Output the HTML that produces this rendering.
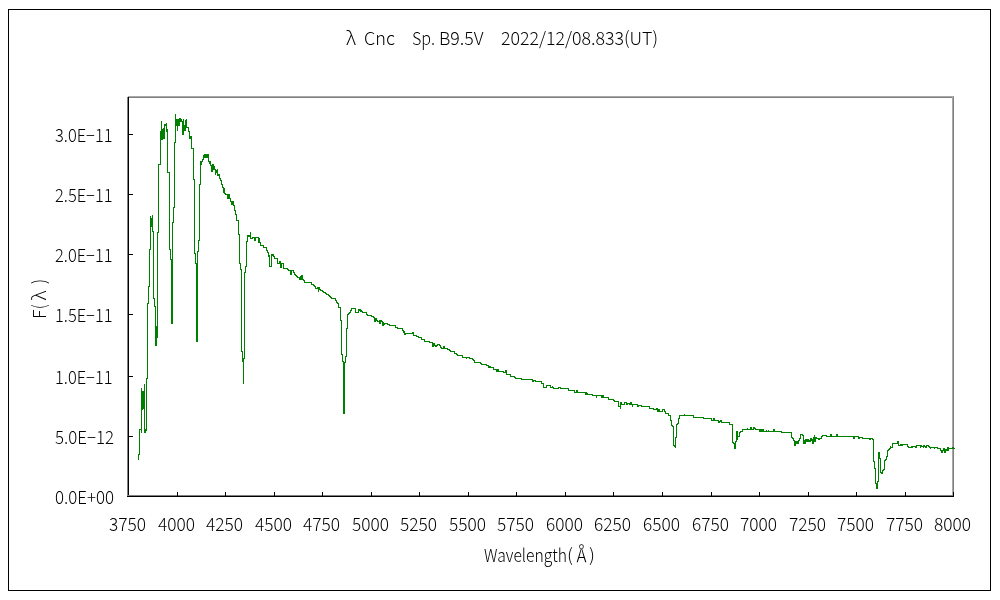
<!DOCTYPE html>
<html><head><meta charset="utf-8"><title>λ Cnc spectrum</title><style>
html,body{margin:0;padding:0;background:#fff;width:1000px;height:600px;overflow:hidden}
svg{display:block;will-change:transform}
text{font-family:"Noto Sans CJK JP","Liberation Sans",sans-serif;font-weight:300;font-size:18px;fill:#000}
</style></head><body>
<svg width="1000" height="600" viewBox="0 0 1000 600">
<rect x="8.5" y="9.5" width="982" height="581" fill="none" stroke="#000" stroke-width="1"/>
<g shape-rendering="crispEdges">
<rect x="128" y="96" width="826" height="1" fill="#a8a8a8"/>
<rect x="128" y="97" width="826" height="1" fill="#808080"/>
<rect x="952" y="97" width="1" height="399" fill="#a8a8a8"/>
<rect x="953" y="97" width="1" height="399" fill="#808080"/>
<rect x="127" y="97" width="1" height="399" fill="#808080"/>
<rect x="128" y="97" width="1" height="400" fill="#000"/>
<rect x="128" y="495" width="826" height="1" fill="#808080"/>
<rect x="127" y="496" width="827" height="1" fill="#000"/>
<rect x="129" y="436" width="4" height="1" fill="#000"/>
<rect x="129" y="376" width="4" height="1" fill="#000"/>
<rect x="129" y="314" width="4" height="1" fill="#000"/>
<rect x="129" y="254" width="4" height="1" fill="#000"/>
<rect x="129" y="194" width="4" height="1" fill="#000"/>
<rect x="129" y="134" width="4" height="1" fill="#000"/>
<rect x="177" y="492" width="1" height="4" fill="#000"/>
<rect x="225" y="492" width="1" height="4" fill="#000"/>
<rect x="274" y="492" width="1" height="4" fill="#000"/>
<rect x="322" y="492" width="1" height="4" fill="#000"/>
<rect x="371" y="492" width="1" height="4" fill="#000"/>
<rect x="419" y="492" width="1" height="4" fill="#000"/>
<rect x="468" y="492" width="1" height="4" fill="#000"/>
<rect x="516" y="492" width="1" height="4" fill="#000"/>
<rect x="565" y="492" width="1" height="4" fill="#000"/>
<rect x="613" y="492" width="1" height="4" fill="#000"/>
<rect x="662" y="492" width="1" height="4" fill="#000"/>
<rect x="711" y="492" width="1" height="4" fill="#000"/>
<rect x="759" y="492" width="1" height="4" fill="#000"/>
<rect x="808" y="492" width="1" height="4" fill="#000"/>
<rect x="856" y="492" width="1" height="4" fill="#000"/>
<rect x="905" y="492" width="1" height="4" fill="#000"/>
<rect x="953" y="492" width="1" height="4" fill="#000"/>
</g>
<polyline fill="none" stroke="#008000" stroke-width="1" shape-rendering="crispEdges" points="138.5,459.5 138.5,454.5 139.5,454.5 139.5,429.5 140.5,429.5 140.5,428.5 140.5,429.5 141.5,429.5 141.5,432.5 141.5,387.5 141.5,409.5 142.5,409.5 142.5,390.5 142.5,405.5 143.5,405.5 143.5,394.5 143.5,402.5 143.5,390.5 143.5,408.5 144.5,408.5 144.5,383.5 144.5,432.5 145.5,432.5 145.5,428.5 145.5,430.5 146.5,430.5 146.5,378.5 147.5,378.5 147.5,303.5 148.5,303.5 148.5,286.5 149.5,286.5 149.5,249.5 150.5,249.5 150.5,215.5 150.5,226.5 151.5,226.5 151.5,217.5 151.5,225.5 152.5,225.5 152.5,214.5 152.5,231.5 153.5,231.5 153.5,298.5 154.5,298.5 154.5,306.5 155.5,306.5 155.5,345.5 156.5,345.5 156.5,325.5 156.5,337.5 157.5,337.5 157.5,232.5 158.5,232.5 158.5,164.5 160.5,164.5 160.5,131.5 161.5,131.5 161.5,120.5 161.5,139.5 162.5,139.5 162.5,129.5 163.5,129.5 163.5,127.5 163.5,138.5 164.5,138.5 164.5,124.5 165.5,124.5 165.5,123.5 165.5,125.5 166.5,125.5 166.5,122.5 166.5,131.5 167.5,131.5 167.5,128.5 167.5,172.5 169.5,172.5 169.5,249.5 170.5,249.5 170.5,259.5 171.5,259.5 171.5,323.5 172.5,323.5 172.5,222.5 173.5,222.5 173.5,207.5 174.5,207.5 174.5,142.5 175.5,142.5 175.5,113.5 175.5,125.5 176.5,125.5 176.5,118.5 176.5,125.5 177.5,125.5 177.5,118.5 177.5,130.5 177.5,120.5 178.5,120.5 178.5,125.5 178.5,118.5 178.5,122.5 179.5,122.5 179.5,125.5 179.5,118.5 180.5,118.5 180.5,121.5 181.5,121.5 181.5,118.5 181.5,121.5 182.5,121.5 182.5,120.5 182.5,134.5 183.5,134.5 183.5,118.5 183.5,125.5 184.5,125.5 184.5,130.5 185.5,130.5 185.5,120.5 186.5,120.5 186.5,118.5 186.5,127.5 187.5,127.5 187.5,126.5 187.5,127.5 188.5,127.5 188.5,131.5 189.5,131.5 189.5,138.5 190.5,138.5 190.5,135.5 190.5,136.5 191.5,136.5 191.5,148.5 193.5,148.5 193.5,179.5 194.5,179.5 194.5,253.5 195.5,253.5 195.5,263.5 196.5,263.5 196.5,341.5 197.5,341.5 197.5,251.5 198.5,251.5 198.5,240.5 199.5,240.5 199.5,184.5 200.5,184.5 200.5,161.5 201.5,161.5 201.5,164.5 201.5,161.5 202.5,161.5 202.5,159.5 203.5,159.5 203.5,155.5 204.5,155.5 204.5,157.5 204.5,154.5 205.5,154.5 205.5,157.5 206.5,157.5 206.5,154.5 207.5,154.5 207.5,157.5 207.5,154.5 208.5,154.5 208.5,161.5 209.5,161.5 209.5,163.5 209.5,161.5 210.5,161.5 210.5,165.5 211.5,165.5 211.5,171.5 212.5,171.5 212.5,164.5 213.5,164.5 213.5,169.5 213.5,166.5 214.5,166.5 214.5,169.5 215.5,169.5 215.5,174.5 215.5,170.5 216.5,170.5 216.5,172.5 217.5,172.5 217.5,168.5 217.5,175.5 218.5,175.5 218.5,174.5 219.5,174.5 219.5,178.5 220.5,178.5 220.5,180.5 221.5,180.5 221.5,184.5 222.5,184.5 222.5,187.5 223.5,187.5 223.5,192.5 223.5,188.5 224.5,188.5 224.5,193.5 225.5,193.5 225.5,194.5 227.5,194.5 227.5,198.5 228.5,198.5 228.5,194.5 229.5,194.5 229.5,198.5 230.5,198.5 230.5,201.5 231.5,201.5 231.5,204.5 232.5,204.5 232.5,201.5 233.5,201.5 233.5,205.5 234.5,205.5 234.5,210.5 235.5,210.5 235.5,214.5 236.5,214.5 236.5,220.5 238.5,220.5 238.5,234.5 239.5,234.5 239.5,263.5 240.5,263.5 240.5,269.5 241.5,269.5 241.5,351.5 242.5,351.5 242.5,361.5 243.5,361.5 243.5,383.5 243.5,358.5 244.5,358.5 244.5,272.5 245.5,272.5 245.5,267.5 245.5,272.5 245.5,266.5 246.5,266.5 246.5,241.5 247.5,241.5 247.5,235.5 248.5,235.5 248.5,236.5 249.5,236.5 249.5,235.5 250.5,235.5 250.5,231.5 250.5,238.5 252.5,238.5 252.5,237.5 254.5,237.5 254.5,240.5 255.5,240.5 255.5,237.5 258.5,237.5 258.5,242.5 258.5,238.5 259.5,238.5 259.5,242.5 260.5,242.5 260.5,245.5 263.5,245.5 263.5,247.5 266.5,247.5 266.5,250.5 267.5,250.5 267.5,252.5 268.5,252.5 268.5,256.5 269.5,256.5 269.5,254.5 269.5,266.5 271.5,266.5 271.5,254.5 272.5,254.5 272.5,255.5 273.5,255.5 273.5,253.5 273.5,256.5 274.5,256.5 274.5,258.5 277.5,258.5 277.5,263.5 279.5,263.5 279.5,261.5 280.5,261.5 280.5,267.5 281.5,267.5 281.5,263.5 283.5,263.5 283.5,268.5 287.5,268.5 287.5,269.5 288.5,269.5 288.5,270.5 290.5,270.5 290.5,274.5 291.5,274.5 291.5,270.5 293.5,270.5 293.5,272.5 294.5,272.5 294.5,274.5 295.5,274.5 295.5,275.5 296.5,275.5 296.5,276.5 297.5,276.5 297.5,277.5 299.5,277.5 299.5,279.5 300.5,279.5 300.5,276.5 301.5,276.5 301.5,279.5 301.5,275.5 302.5,275.5 302.5,279.5 303.5,279.5 303.5,280.5 304.5,280.5 304.5,282.5 311.5,282.5 311.5,284.5 313.5,284.5 313.5,285.5 314.5,285.5 314.5,286.5 315.5,286.5 315.5,285.5 315.5,288.5 317.5,288.5 317.5,287.5 318.5,287.5 318.5,291.5 318.5,287.5 319.5,287.5 319.5,289.5 320.5,289.5 320.5,290.5 322.5,290.5 322.5,291.5 323.5,291.5 323.5,292.5 325.5,292.5 325.5,293.5 326.5,293.5 326.5,294.5 328.5,294.5 328.5,295.5 329.5,295.5 329.5,296.5 330.5,296.5 330.5,297.5 331.5,297.5 331.5,298.5 335.5,298.5 335.5,300.5 336.5,300.5 336.5,302.5 337.5,302.5 337.5,303.5 338.5,303.5 338.5,307.5 340.5,307.5 340.5,320.5 341.5,320.5 341.5,354.5 342.5,354.5 342.5,361.5 343.5,361.5 343.5,413.5 344.5,413.5 344.5,362.5 345.5,362.5 345.5,356.5 346.5,356.5 346.5,328.5 347.5,328.5 347.5,314.5 348.5,314.5 348.5,313.5 349.5,313.5 349.5,312.5 350.5,312.5 350.5,310.5 351.5,310.5 351.5,308.5 355.5,308.5 355.5,312.5 358.5,312.5 358.5,308.5 358.5,310.5 359.5,310.5 359.5,309.5 360.5,309.5 360.5,311.5 361.5,311.5 361.5,309.5 361.5,311.5 362.5,311.5 362.5,312.5 366.5,312.5 366.5,314.5 367.5,314.5 367.5,315.5 371.5,315.5 371.5,316.5 373.5,316.5 373.5,317.5 374.5,317.5 374.5,321.5 375.5,321.5 375.5,318.5 376.5,318.5 376.5,320.5 377.5,320.5 377.5,321.5 379.5,321.5 379.5,319.5 379.5,323.5 380.5,323.5 380.5,320.5 381.5,320.5 381.5,321.5 382.5,321.5 382.5,325.5 383.5,325.5 383.5,321.5 383.5,324.5 384.5,324.5 384.5,323.5 387.5,323.5 387.5,324.5 389.5,324.5 389.5,325.5 395.5,325.5 395.5,327.5 397.5,327.5 397.5,328.5 402.5,328.5 402.5,330.5 403.5,330.5 403.5,332.5 404.5,332.5 404.5,330.5 404.5,334.5 405.5,334.5 405.5,333.5 412.5,333.5 412.5,332.5 413.5,332.5 413.5,335.5 416.5,335.5 416.5,336.5 418.5,336.5 418.5,337.5 421.5,337.5 421.5,339.5 424.5,339.5 424.5,341.5 429.5,341.5 429.5,342.5 432.5,342.5 432.5,346.5 433.5,346.5 433.5,343.5 434.5,343.5 434.5,345.5 435.5,345.5 435.5,346.5 436.5,346.5 436.5,345.5 437.5,345.5 437.5,344.5 439.5,344.5 439.5,345.5 440.5,345.5 440.5,347.5 441.5,347.5 441.5,348.5 443.5,348.5 443.5,346.5 444.5,346.5 444.5,348.5 447.5,348.5 447.5,349.5 449.5,349.5 449.5,350.5 450.5,350.5 450.5,351.5 454.5,351.5 454.5,353.5 456.5,353.5 456.5,354.5 457.5,354.5 457.5,355.5 462.5,355.5 462.5,357.5 466.5,357.5 466.5,358.5 466.5,357.5 469.5,357.5 469.5,358.5 472.5,358.5 472.5,359.5 473.5,359.5 473.5,360.5 474.5,360.5 474.5,362.5 480.5,362.5 480.5,363.5 481.5,363.5 481.5,364.5 486.5,364.5 486.5,365.5 488.5,365.5 488.5,367.5 489.5,367.5 489.5,366.5 490.5,366.5 490.5,367.5 493.5,367.5 493.5,369.5 496.5,369.5 496.5,371.5 497.5,371.5 497.5,369.5 498.5,369.5 498.5,371.5 503.5,371.5 503.5,372.5 505.5,372.5 505.5,370.5 506.5,370.5 506.5,374.5 510.5,374.5 510.5,376.5 514.5,376.5 514.5,377.5 515.5,377.5 515.5,378.5 521.5,378.5 521.5,379.5 532.5,379.5 532.5,381.5 533.5,381.5 533.5,380.5 535.5,380.5 535.5,381.5 541.5,381.5 541.5,383.5 543.5,383.5 543.5,387.5 546.5,387.5 546.5,385.5 550.5,385.5 550.5,387.5 552.5,387.5 552.5,385.5 552.5,387.5 553.5,387.5 553.5,388.5 558.5,388.5 558.5,387.5 560.5,387.5 560.5,388.5 568.5,388.5 568.5,390.5 574.5,390.5 574.5,392.5 576.5,392.5 576.5,390.5 577.5,390.5 577.5,392.5 585.5,392.5 585.5,394.5 585.5,392.5 586.5,392.5 586.5,394.5 587.5,394.5 587.5,392.5 587.5,394.5 592.5,394.5 592.5,395.5 596.5,395.5 596.5,397.5 596.5,395.5 601.5,395.5 601.5,397.5 602.5,397.5 602.5,395.5 603.5,395.5 603.5,397.5 608.5,397.5 608.5,399.5 613.5,399.5 613.5,400.5 614.5,400.5 614.5,401.5 618.5,401.5 618.5,406.5 620.5,406.5 620.5,408.5 620.5,402.5 621.5,402.5 621.5,404.5 624.5,404.5 624.5,402.5 626.5,402.5 626.5,404.5 627.5,404.5 627.5,403.5 629.5,403.5 629.5,404.5 630.5,404.5 630.5,402.5 631.5,402.5 631.5,404.5 632.5,404.5 632.5,406.5 632.5,404.5 637.5,404.5 637.5,406.5 638.5,406.5 638.5,405.5 641.5,405.5 641.5,406.5 649.5,406.5 649.5,408.5 653.5,408.5 653.5,409.5 656.5,409.5 656.5,408.5 657.5,408.5 657.5,411.5 658.5,411.5 658.5,409.5 659.5,409.5 659.5,411.5 662.5,411.5 662.5,409.5 664.5,409.5 664.5,411.5 665.5,411.5 665.5,413.5 668.5,413.5 668.5,415.5 670.5,415.5 670.5,420.5 671.5,420.5 671.5,425.5 672.5,425.5 672.5,426.5 673.5,426.5 673.5,445.5 674.5,445.5 674.5,446.5 675.5,446.5 675.5,447.5 675.5,437.5 676.5,437.5 676.5,424.5 677.5,424.5 677.5,423.5 678.5,423.5 678.5,418.5 679.5,418.5 679.5,415.5 684.5,415.5 684.5,413.5 684.5,415.5 693.5,415.5 693.5,417.5 703.5,417.5 703.5,418.5 711.5,418.5 711.5,420.5 713.5,420.5 713.5,418.5 714.5,418.5 714.5,420.5 718.5,420.5 718.5,422.5 719.5,422.5 719.5,421.5 720.5,421.5 720.5,420.5 721.5,420.5 721.5,422.5 729.5,422.5 729.5,424.5 732.5,424.5 732.5,442.5 733.5,442.5 733.5,443.5 734.5,443.5 734.5,448.5 735.5,448.5 735.5,441.5 736.5,441.5 736.5,431.5 737.5,431.5 737.5,439.5 737.5,436.5 739.5,436.5 739.5,432.5 740.5,432.5 740.5,431.5 742.5,431.5 742.5,429.5 747.5,429.5 747.5,427.5 747.5,429.5 750.5,429.5 750.5,427.5 751.5,427.5 751.5,429.5 753.5,429.5 753.5,427.5 754.5,427.5 754.5,428.5 755.5,428.5 755.5,429.5 759.5,429.5 759.5,431.5 760.5,431.5 760.5,429.5 761.5,429.5 761.5,431.5 762.5,431.5 762.5,429.5 763.5,429.5 763.5,431.5 766.5,431.5 766.5,429.5 766.5,431.5 768.5,431.5 768.5,429.5 768.5,431.5 773.5,431.5 773.5,429.5 774.5,429.5 774.5,431.5 781.5,431.5 781.5,432.5 791.5,432.5 791.5,437.5 792.5,437.5 792.5,438.5 793.5,438.5 793.5,440.5 794.5,440.5 794.5,445.5 795.5,445.5 795.5,441.5 796.5,441.5 796.5,443.5 797.5,443.5 797.5,441.5 798.5,441.5 798.5,443.5 798.5,440.5 799.5,440.5 799.5,438.5 800.5,438.5 800.5,434.5 802.5,434.5 802.5,435.5 803.5,435.5 803.5,443.5 804.5,443.5 804.5,439.5 804.5,443.5 805.5,443.5 805.5,439.5 806.5,439.5 806.5,441.5 807.5,441.5 807.5,439.5 808.5,439.5 808.5,441.5 809.5,441.5 809.5,440.5 810.5,440.5 810.5,441.5 810.5,438.5 811.5,438.5 811.5,440.5 812.5,440.5 812.5,438.5 812.5,443.5 813.5,443.5 813.5,437.5 814.5,437.5 814.5,434.5 814.5,441.5 815.5,441.5 815.5,437.5 816.5,437.5 816.5,438.5 818.5,438.5 818.5,439.5 819.5,439.5 819.5,438.5 821.5,438.5 821.5,436.5 822.5,436.5 822.5,435.5 826.5,435.5 826.5,436.5 830.5,436.5 830.5,434.5 831.5,434.5 831.5,436.5 836.5,436.5 836.5,434.5 837.5,434.5 837.5,436.5 853.5,436.5 853.5,438.5 854.5,438.5 854.5,436.5 858.5,436.5 858.5,438.5 859.5,438.5 859.5,437.5 862.5,437.5 862.5,438.5 869.5,438.5 869.5,439.5 870.5,439.5 870.5,438.5 872.5,438.5 872.5,439.5 873.5,439.5 873.5,461.5 874.5,461.5 874.5,468.5 875.5,468.5 875.5,483.5 876.5,483.5 876.5,488.5 877.5,488.5 877.5,481.5 878.5,481.5 878.5,452.5 879.5,452.5 879.5,458.5 880.5,458.5 880.5,472.5 881.5,472.5 881.5,473.5 882.5,473.5 882.5,470.5 883.5,470.5 883.5,469.5 884.5,469.5 884.5,460.5 885.5,460.5 885.5,459.5 886.5,459.5 886.5,456.5 887.5,456.5 887.5,450.5 888.5,450.5 888.5,449.5 889.5,449.5 889.5,448.5 890.5,448.5 890.5,445.5 890.5,447.5 892.5,447.5 892.5,443.5 897.5,443.5 897.5,441.5 898.5,441.5 898.5,445.5 900.5,445.5 900.5,443.5 900.5,445.5 901.5,445.5 901.5,443.5 901.5,445.5 902.5,445.5 902.5,444.5 907.5,444.5 907.5,446.5 908.5,446.5 908.5,447.5 911.5,447.5 911.5,445.5 911.5,447.5 912.5,447.5 912.5,446.5 915.5,446.5 915.5,447.5 916.5,447.5 916.5,445.5 920.5,445.5 920.5,447.5 920.5,445.5 921.5,445.5 921.5,446.5 923.5,446.5 923.5,447.5 923.5,445.5 924.5,445.5 924.5,446.5 925.5,446.5 925.5,447.5 926.5,447.5 926.5,445.5 928.5,445.5 928.5,446.5 929.5,446.5 929.5,447.5 930.5,447.5 930.5,448.5 930.5,447.5 934.5,447.5 934.5,448.5 934.5,447.5 937.5,447.5 937.5,448.5 940.5,448.5 940.5,450.5 941.5,450.5 941.5,452.5 942.5,452.5 942.5,450.5 943.5,450.5 943.5,448.5 944.5,448.5 944.5,452.5 945.5,452.5 945.5,449.5 946.5,449.5 946.5,450.5 947.5,450.5 947.5,447.5 948.5,447.5 948.5,450.5 948.5,448.5 952.5,448.5 952.5,447.5 953.5,447.5 953.5,448.5 954.5,448.5 954.5,447.5"/>
<text id="t1" x="346" y="45" textLength="10" lengthAdjust="spacingAndGlyphs">λ</text>
<text id="t2" x="364" y="45" textLength="31" lengthAdjust="spacingAndGlyphs">Cnc</text>
<text id="t3" x="412" y="45" textLength="23" lengthAdjust="spacingAndGlyphs">Sp.</text>
<text id="t4" x="439" y="45" textLength="44.5" lengthAdjust="spacingAndGlyphs">B9.5V</text>
<text id="t5" x="501" y="45" textLength="157" lengthAdjust="spacingAndGlyphs">2022/12/08.833(UT)</text>
<text id="y0" x="55" y="504" textLength="59" lengthAdjust="spacingAndGlyphs">0.0E+00</text>
<text id="y1" x="55" y="444" textLength="59" lengthAdjust="spacingAndGlyphs">5.0E−12</text>
<text id="y2" x="55" y="384" textLength="57.5" lengthAdjust="spacingAndGlyphs">1.0E−11</text>
<text id="y3" x="55" y="322" textLength="57.5" lengthAdjust="spacingAndGlyphs">1.5E−11</text>
<text id="y4" x="55" y="262" textLength="57.5" lengthAdjust="spacingAndGlyphs">2.0E−11</text>
<text id="y5" x="55" y="202" textLength="57.5" lengthAdjust="spacingAndGlyphs">2.5E−11</text>
<text id="y6" x="55" y="142" textLength="57.5" lengthAdjust="spacingAndGlyphs">3.0E−11</text>
<text id="x0" x="109" y="531" textLength="37" lengthAdjust="spacingAndGlyphs">3750</text>
<text id="x1" x="158" y="531" textLength="37" lengthAdjust="spacingAndGlyphs">4000</text>
<text id="x2" x="206" y="531" textLength="37" lengthAdjust="spacingAndGlyphs">4250</text>
<text id="x3" x="255" y="531" textLength="37" lengthAdjust="spacingAndGlyphs">4500</text>
<text id="x4" x="303" y="531" textLength="37" lengthAdjust="spacingAndGlyphs">4750</text>
<text id="x5" x="352" y="531" textLength="37" lengthAdjust="spacingAndGlyphs">5000</text>
<text id="x6" x="400" y="531" textLength="37" lengthAdjust="spacingAndGlyphs">5250</text>
<text id="x7" x="449" y="531" textLength="37" lengthAdjust="spacingAndGlyphs">5500</text>
<text id="x8" x="497" y="531" textLength="37" lengthAdjust="spacingAndGlyphs">5750</text>
<text id="x9" x="546" y="531" textLength="37" lengthAdjust="spacingAndGlyphs">6000</text>
<text id="x10" x="594" y="531" textLength="37" lengthAdjust="spacingAndGlyphs">6250</text>
<text id="x11" x="643" y="531" textLength="37" lengthAdjust="spacingAndGlyphs">6500</text>
<text id="x12" x="692" y="531" textLength="37" lengthAdjust="spacingAndGlyphs">6750</text>
<text id="x13" x="740" y="531" textLength="37" lengthAdjust="spacingAndGlyphs">7000</text>
<text id="x14" x="789" y="531" textLength="37" lengthAdjust="spacingAndGlyphs">7250</text>
<text id="x15" x="837" y="531" textLength="37" lengthAdjust="spacingAndGlyphs">7500</text>
<text id="x16" x="886" y="531" textLength="37" lengthAdjust="spacingAndGlyphs">7750</text>
<text id="x17" x="934" y="531" textLength="37" lengthAdjust="spacingAndGlyphs">8000</text>
<text id="w1" x="484" y="562" textLength="83" lengthAdjust="spacingAndGlyphs">Wavelength</text>
<text id="w2" x="567" y="562" textLength="6" lengthAdjust="spacingAndGlyphs">(</text>
<text id="w3" x="573" y="562" textLength="17" lengthAdjust="spacingAndGlyphs">&#x212B;</text>
<text id="w4" x="589" y="562" textLength="6" lengthAdjust="spacingAndGlyphs">)</text>
<g transform="translate(46,318) rotate(-90)">
<text id="fa" x="-1" y="-0.5" textLength="9.5" lengthAdjust="spacingAndGlyphs">F</text>
<text id="fb" x="9" y="-0.5" textLength="4.5" lengthAdjust="spacingAndGlyphs">(</text>
<text id="fc" x="17.5" y="-0.5" textLength="10" lengthAdjust="spacingAndGlyphs">λ</text>
<text id="fd" x="34" y="-0.5" textLength="5" lengthAdjust="spacingAndGlyphs">)</text>
</g>
</svg>
</body></html>
